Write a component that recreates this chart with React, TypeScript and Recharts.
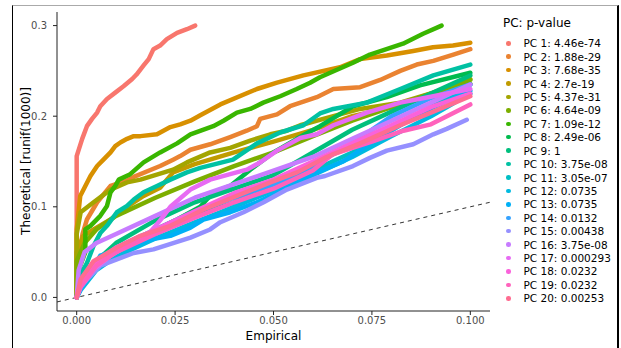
import React from 'react';
import { LineChart, Line, XAxis, YAxis, ReferenceLine } from 'recharts';

// [empirical, theoretical] pairs, one list per PC
const PC1 = [[0, 0], [0, 0.156], [0.0014, 0.175], [0.0026, 0.189], [0.0039, 0.197], [0.0052, 0.204], [0.006, 0.211], [0.0077, 0.219], [0.0098, 0.226], [0.0119, 0.233], [0.0141, 0.241], [0.0152, 0.246], [0.017, 0.256], [0.0183, 0.263], [0.0195, 0.274], [0.0212, 0.278], [0.0229, 0.285], [0.0255, 0.292], [0.028, 0.296], [0.0301, 0.3]];
const PC2 = [[0, 0], [0.0005, 0.045], [0.0015, 0.07], [0.0026, 0.086], [0.0052, 0.105], [0.0086, 0.123], [0.0128, 0.129], [0.0145, 0.133], [0.0212, 0.145], [0.0245, 0.152], [0.0263, 0.156], [0.0289, 0.163], [0.0339, 0.169], [0.039, 0.177], [0.0432, 0.184], [0.0458, 0.189], [0.0466, 0.197], [0.0509, 0.202], [0.0542, 0.211], [0.0576, 0.216], [0.061, 0.221], [0.0652, 0.23], [0.072, 0.232], [0.0771, 0.24], [0.0822, 0.25], [0.0864, 0.257], [0.0906, 0.261], [0.0957, 0.268], [0.1, 0.274]];
const PC3 = [[0, 0], [0, 0.075], [0.0009, 0.112], [0.0022, 0.123], [0.0035, 0.134], [0.0052, 0.145], [0.0068, 0.152], [0.0086, 0.16], [0.0098, 0.167], [0.0111, 0.171], [0.0128, 0.175], [0.0145, 0.178], [0.0162, 0.178], [0.0204, 0.18], [0.0238, 0.188], [0.0263, 0.191], [0.0289, 0.195], [0.0314, 0.201], [0.0365, 0.213], [0.0458, 0.23], [0.0509, 0.237], [0.0576, 0.245], [0.0669, 0.254], [0.072, 0.263], [0.0788, 0.267], [0.0855, 0.272], [0.0905, 0.276], [0.0956, 0.278], [0.1, 0.281]];
const PC4 = [[0, 0], [0, 0.05], [0.0017, 0.068], [0.0043, 0.075], [0.0086, 0.086], [0.0128, 0.1], [0.017, 0.112], [0.0212, 0.121], [0.0245, 0.138], [0.03, 0.147], [0.04, 0.16], [0.05, 0.172], [0.06, 0.185], [0.07, 0.2], [0.08, 0.21], [0.09, 0.222], [0.1, 0.236]];
const PC5 = [[0, 0], [0, 0.07], [0.001, 0.094], [0.0043, 0.105], [0.0086, 0.119], [0.0128, 0.127], [0.0162, 0.13], [0.0245, 0.141], [0.028, 0.149], [0.0339, 0.16], [0.039, 0.165], [0.0441, 0.173], [0.0492, 0.18], [0.0534, 0.184], [0.0568, 0.19], [0.0652, 0.2], [0.072, 0.208], [0.0822, 0.215], [0.0906, 0.226], [0.0957, 0.234], [0.1, 0.241]];
const PC6 = [[0, 0], [0, 0.04], [0.002, 0.06], [0.005, 0.075], [0.01, 0.09], [0.02, 0.11], [0.03, 0.128], [0.04, 0.145], [0.05, 0.16], [0.06, 0.178], [0.07, 0.195], [0.08, 0.21], [0.09, 0.225], [0.1, 0.24]];
const PC7 = [[0, 0], [0.0009, 0.035], [0.0022, 0.05], [0.0022, 0.075], [0.0035, 0.079], [0.006, 0.09], [0.0077, 0.101], [0.0086, 0.116], [0.0098, 0.123], [0.0107, 0.13], [0.0136, 0.136], [0.017, 0.149], [0.0212, 0.16], [0.0255, 0.17], [0.0289, 0.18], [0.0347, 0.189], [0.0373, 0.195], [0.0407, 0.204], [0.0441, 0.208], [0.0474, 0.215], [0.0517, 0.222], [0.0559, 0.23], [0.0593, 0.237], [0.0618, 0.243], [0.0702, 0.259], [0.0745, 0.268], [0.0829, 0.28], [0.088, 0.291], [0.0927, 0.3]];
const PC8 = [[0, 0], [0.0017, 0.02], [0.0043, 0.035], [0.0086, 0.05], [0.0128, 0.06], [0.017, 0.068], [0.0212, 0.077], [0.0255, 0.086], [0.0314, 0.1], [0.0347, 0.116], [0.039, 0.123], [0.0441, 0.141], [0.05, 0.16], [0.0559, 0.175], [0.0618, 0.189], [0.0702, 0.211], [0.0788, 0.221], [0.0872, 0.234], [0.1, 0.248]];
const PC9 = [[0, 0], [0.001, 0.015], [0.005, 0.04], [0.01, 0.06], [0.02, 0.085], [0.03, 0.105], [0.04, 0.12], [0.05, 0.135], [0.06, 0.16], [0.07, 0.185], [0.08, 0.205], [0.09, 0.225], [0.1, 0.245]];
const PC10 = [[0, 0], [0.0009, 0.024], [0.0026, 0.038], [0.0043, 0.057], [0.006, 0.071], [0.0077, 0.079], [0.0102, 0.094], [0.0128, 0.101], [0.0145, 0.108], [0.017, 0.116], [0.0204, 0.123], [0.0238, 0.13], [0.028, 0.138], [0.0314, 0.143], [0.0397, 0.152], [0.0458, 0.17], [0.0517, 0.182], [0.0576, 0.19], [0.0618, 0.203], [0.0652, 0.208], [0.0737, 0.215], [0.0822, 0.23], [0.0906, 0.245], [0.1, 0.257]];
const PC11 = [[0, 0], [0.001, 0.01], [0.005, 0.035], [0.01, 0.05], [0.02, 0.07], [0.03, 0.09], [0.04, 0.105], [0.05, 0.125], [0.06, 0.14], [0.07, 0.16], [0.08, 0.185], [0.09, 0.21], [0.1, 0.235]];
const PC12 = [[0, 0], [0.001, 0.008], [0.005, 0.03], [0.01, 0.045], [0.02, 0.065], [0.03, 0.083], [0.04, 0.1], [0.05, 0.118], [0.06, 0.135], [0.07, 0.155], [0.08, 0.178], [0.09, 0.2], [0.1, 0.225]];
const PC13 = [[0, 0], [0.001, 0.01], [0.006, 0.046], [0.0187, 0.064], [0.0238, 0.068], [0.0289, 0.077], [0.0322, 0.086], [0.039, 0.094], [0.0458, 0.105], [0.0492, 0.112], [0.0542, 0.123], [0.0576, 0.13], [0.061, 0.138], [0.0677, 0.15], [0.0745, 0.17], [0.0822, 0.19], [0.0906, 0.21], [0.1, 0.228]];
const PC14 = [[0, 0], [0.001, 0.01], [0.005, 0.035], [0.01, 0.055], [0.02, 0.075], [0.03, 0.095], [0.04, 0.11], [0.05, 0.125], [0.06, 0.145], [0.07, 0.17], [0.08, 0.2], [0.09, 0.22], [0.1, 0.235]];
const PC15 = [[0, 0], [0.0009, 0.012], [0.006, 0.035], [0.0102, 0.042], [0.0145, 0.049], [0.0195, 0.053], [0.0245, 0.06], [0.0289, 0.066], [0.0339, 0.075], [0.0365, 0.083], [0.0424, 0.094], [0.0475, 0.105], [0.0534, 0.119], [0.061, 0.132], [0.0631, 0.134], [0.0702, 0.145], [0.0745, 0.154], [0.0788, 0.162], [0.0855, 0.169], [0.0906, 0.18], [0.094, 0.186], [0.0991, 0.196]];
const PC16 = [[0, 0], [0.0005, 0.03], [0.002, 0.05], [0.005, 0.06], [0.01, 0.07], [0.02, 0.09], [0.03, 0.11], [0.04, 0.125], [0.05, 0.14], [0.06, 0.155], [0.07, 0.175], [0.08, 0.195], [0.09, 0.215], [0.1, 0.235]];
const PC17 = [[0, 0], [0.001, 0.012], [0.0043, 0.031], [0.0086, 0.046], [0.0128, 0.057], [0.0179, 0.068], [0.0212, 0.085], [0.0238, 0.1], [0.0289, 0.119], [0.0339, 0.13], [0.039, 0.136], [0.0432, 0.141], [0.0466, 0.149], [0.0509, 0.162], [0.0568, 0.176], [0.061, 0.18], [0.0652, 0.19], [0.0737, 0.204], [0.0822, 0.215], [0.0906, 0.222], [0.1, 0.23]];
const PC18 = [[0, 0], [0.001, 0.015], [0.005, 0.04], [0.01, 0.055], [0.02, 0.075], [0.03, 0.095], [0.04, 0.115], [0.05, 0.13], [0.06, 0.15], [0.07, 0.17], [0.08, 0.19], [0.09, 0.21], [0.1, 0.225]];
const PC19 = [[0, 0], [0.001, 0.012], [0.005, 0.035], [0.01, 0.05], [0.02, 0.07], [0.03, 0.088], [0.04, 0.105], [0.05, 0.12], [0.06, 0.14], [0.065, 0.158], [0.075, 0.172], [0.083, 0.184], [0.09, 0.191], [0.1, 0.213]];
const PC20 = [[0, 0], [0.001, 0.02], [0.0043, 0.04], [0.0102, 0.055], [0.0162, 0.068], [0.0238, 0.079], [0.0322, 0.097], [0.0407, 0.112], [0.0492, 0.127], [0.056, 0.138], [0.0635, 0.155], [0.072, 0.17], [0.0822, 0.19], [0.0906, 0.205], [0.1, 0.222]];

const SERIES = [PC1, PC2, PC3, PC4, PC5, PC6, PC7, PC8, PC9, PC10, PC11, PC12, PC13, PC14, PC15, PC16, PC17, PC18, PC19, PC20];
const PVALUES = ['4.46e-74', '1.88e-29', '7.68e-35', '2.7e-19', '4.37e-31', '4.64e-09', '1.09e-12', '2.49e-06', '1', '3.75e-08', '3.05e-07', '0.0735', '0.0735', '0.0132', '0.00438', '3.75e-08', '0.000293', '0.0232', '0.0232', '0.00253'];
const COLORS = ['#F8766D', '#EA8331', '#D89000', '#C09B00', '#A3A500', '#7CAE00', '#39B600', '#00BB4E', '#00BF7D', '#00C1A3', '#00BFC4', '#00BAE0', '#00B0F6', '#35A2FF', '#9590FF', '#C77CFF', '#E76BF3', '#FA62DB', '#FF62BC', '#FF6C91'];
const X_TICKS = [0, 0.025, 0.05, 0.075, 0.1];
const Y_TICKS = [0, 0.1, 0.2, 0.3];

const FONT = '"DejaVu Sans", sans-serif';

export default function App() {
  const series = SERIES.map((pts) => pts.map(([x, y]) => ({ x, y })));

  return (
    <div style={{ position: 'absolute', left: 0, top: 0, width: 621, height: 348, background: '#fff', fontFamily: FONT, overflow: 'hidden' }}>
      <div style={{ position: 'absolute', left: 12, top: 5, width: 604, height: 360, borderLeft: '1px solid #000', borderRight: '2px solid #000', borderTop: '1px solid #aaa' }} />
      <LineChart width={621} height={348} margin={{ top: 12, right: 131, bottom: 0, left: 0 }}>
        <XAxis
          type="number"
          dataKey="x"
          domain={[-0.005, 0.105]}
          allowDataOverflow
          ticks={X_TICKS}
          tickFormatter={(v) => v.toFixed(3)}
          height={37}
          tickSize={4}
          tickMargin={2}
          stroke="#222"
          tick={{ fill: '#4d4d4d', fontSize: 10, fontFamily: FONT }}
        />
        <YAxis
          type="number"
          dataKey="y"
          domain={[-0.015, 0.315]}
          allowDataOverflow
          ticks={Y_TICKS}
          tickFormatter={(v) => v.toFixed(1)}
          width={57}
          tickSize={4}
          tickMargin={6}
          stroke="#222"
          tick={{ fill: '#4d4d4d', fontSize: 10, fontFamily: FONT }}
        />
        <ReferenceLine
          segment={[{ x: -0.005, y: -0.005 }, { x: 0.105, y: 0.105 }]}
          stroke="#333"
          strokeDasharray="4 4"
          strokeWidth={1}
        />
        {series.map((d, i) => (
          <Line
            key={i}
            data={d}
            dataKey="y"
            type="linear"
            stroke={COLORS[i]}
            strokeWidth={4.5}
            strokeLinecap="round"
            strokeLinejoin="round"
            dot={false}
            isAnimationActive={false}
          />
        ))}
      </LineChart>
      <div style={{ position: 'absolute', left: 0, width: 547, textAlign: 'center', top: 329, fontSize: 12, color: '#000' }}>Empirical</div>
      <div style={{ position: 'absolute', left: 26, top: 161, transform: 'translate(-50%, -50%) rotate(-90deg)', whiteSpace: 'nowrap', fontSize: 12, color: '#000' }}>Theoretical [runif(1000)]</div>
      <div style={{ position: 'absolute', left: 503, top: 16, fontSize: 12, lineHeight: '14px', color: '#000' }}>PC: p-value</div>
      {PVALUES.map((p, i) => (
        <div key={i} style={{ position: 'absolute', left: 504, top: 36.6 + i * 13.42, height: 13.42, display: 'flex', alignItems: 'center', fontSize: 10.5, whiteSpace: 'nowrap' }}>
          <span style={{ width: 4.5, height: 4.5, borderRadius: 2.25, background: COLORS[i], display: 'inline-block', marginLeft: 2, marginRight: 13 }} />
          <span>{`PC ${i + 1}: ${p}`}</span>
        </div>
      ))}
    </div>
  );
}
